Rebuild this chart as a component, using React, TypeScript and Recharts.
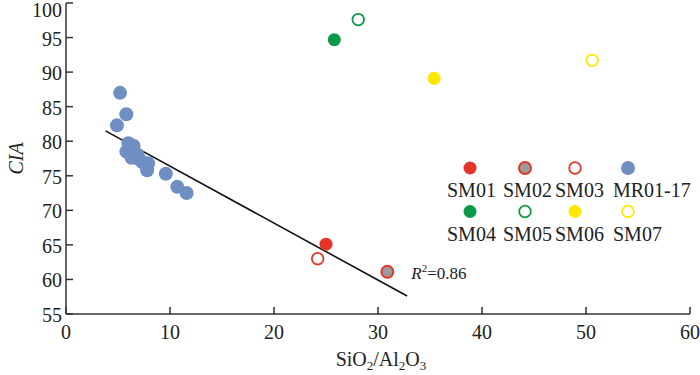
import { ScatterChart, Scatter, XAxis, YAxis, ReferenceLine, ReferenceDot, Legend } from 'recharts';

const FONT = '"Liberation Serif", "Times New Roman", serif';
const RED = '#e8332b';
const GREEN = '#0a9a47';
const YELLOW = '#ffe800';
const BLUE = '#6f8fc3';
const GRAY = '#9b9b9b';
const INK = '#222';

const xTicks = [0, 10, 20, 30, 40, 50, 60];
const yTicks = [55, 60, 65, 70, 75, 80, 85, 90, 95, 100];

// SiO2/Al2O3 (x) vs CIA (y)
const sm01 = [{ x: 25.0, y: 65.1 }];
const sm02 = [{ x: 30.9, y: 61.1 }];
const sm03 = [{ x: 24.2, y: 63.0 }];
const sm04 = [{ x: 25.8, y: 94.7 }];
const sm05 = [{ x: 28.1, y: 97.6 }];
const sm06 = [{ x: 35.4, y: 89.1 }];
const sm07 = [{ x: 50.6, y: 91.7 }];
const mr0117 = [
  { x: 5.2, y: 87.0 },
  { x: 5.8, y: 83.9 },
  { x: 4.9, y: 82.3 },
  { x: 6.0, y: 79.7 },
  { x: 6.5, y: 79.3 },
  { x: 6.2, y: 79.0 },
  { x: 5.8, y: 78.5 },
  { x: 6.6, y: 78.3 },
  { x: 6.3, y: 77.6 },
  { x: 6.9, y: 78.0 },
  { x: 7.1, y: 77.3 },
  { x: 7.4, y: 76.9 },
  { x: 7.9, y: 76.8 },
  { x: 7.8, y: 75.8 },
  { x: 9.6, y: 75.3 },
  { x: 10.7, y: 73.4 },
  { x: 11.6, y: 72.5 },
];

// regression line end points and its label
const fitLine = [
  { x: 3.8, y: 81.5 },
  { x: 32.8, y: 57.6 },
];
const r2Pos = { x: 33.3, y: 60.9 };
const r2Value = '0.86';

type Style = { name: string; data: { x: number; y: number }[]; fill: string; stroke: string; r: number; sw: number };

const series: Style[] = [
  { name: 'MR01-17', data: mr0117, fill: BLUE, stroke: 'none', r: 7, sw: 0 },
  { name: 'SM01', data: sm01, fill: RED, stroke: 'none', r: 6.5, sw: 0 },
  { name: 'SM02', data: sm02, fill: GRAY, stroke: RED, r: 6, sw: 2 },
  { name: 'SM03', data: sm03, fill: '#fff', stroke: RED, r: 5.8, sw: 1.8 },
  { name: 'SM04', data: sm04, fill: GREEN, stroke: 'none', r: 6.5, sw: 0 },
  { name: 'SM05', data: sm05, fill: '#fff', stroke: GREEN, r: 5.8, sw: 1.8 },
  { name: 'SM06', data: sm06, fill: YELLOW, stroke: 'none', r: 6.5, sw: 0 },
  { name: 'SM07', data: sm07, fill: '#fff', stroke: YELLOW, r: 5.8, sw: 1.8 },
];

const legendRows = [
  ['SM01', 'SM02', 'SM03', 'MR01-17'],
  ['SM04', 'SM05', 'SM06', 'SM07'],
];
const legendMarkX = [30, 85, 135, 188];
const legendTextX = [7, 63, 115, 173];

const TICK_LEN = 7;

function Marker({ cx, cy, s }: { cx: number; cy: number; s: Style }) {
  return <circle cx={cx} cy={cy} r={s.r} fill={s.fill} stroke={s.stroke} strokeWidth={s.sw} />;
}

// x tick: inward tick mark + serif label below axis
function XTick(props: any) {
  const { x, y, payload } = props;
  const axisY = y - 4;
  return (
    <g>
      <line x1={x} x2={x} y1={axisY} y2={axisY - TICK_LEN} stroke="#333" strokeWidth={1.5} />
      <text x={x} y={axisY + 25} textAnchor="middle" fontSize={20} fill={INK} fontFamily={FONT}>
        {payload.value}
      </text>
    </g>
  );
}

function YTick(props: any) {
  const { x, y, payload } = props;
  const axisX = x + 4;
  // keep the top label inside the picture
  const ty = Math.max(y + 1, 10);
  return (
    <g>
      <line x1={axisX} x2={axisX + TICK_LEN} y1={y} y2={y} stroke="#333" strokeWidth={1.5} />
      <text x={axisX - 4} y={ty} textAnchor="end" dominantBaseline="central" fontSize={20} fill={INK} fontFamily={FONT}>
        {payload.value}
      </text>
    </g>
  );
}

function LegendBox() {
  return (
    <svg width={260} height={100} style={{ fontFamily: FONT }}>
      {legendRows.map((row, ri) =>
        row.map((name, ci) => {
          const s = series.find((d) => d.name === name)!;
          return (
            <g key={name}>
              <Marker cx={legendMarkX[ci]} cy={18 + ri * 43.5} s={s} />
              <text x={legendTextX[ci]} y={47 + ri * 43.5} fontSize={20} fill={INK}>
                {name}
              </text>
            </g>
          );
        })
      )}
    </svg>
  );
}

const axisStroke = { stroke: '#333', strokeWidth: 1.5 };

export default function App() {
  return (
    <div style={{ position: 'absolute', left: 0, top: 0, background: '#fff' }}>
      <ScatterChart width={700} height={375} margin={{ top: 3, right: 10, left: 0, bottom: 0 }} style={{ fontFamily: FONT }}>
        <XAxis
          type="number"
          dataKey="x"
          domain={[0, 60]}
          ticks={xTicks}
          interval={0}
          height={61}
          tickSize={0}
          tickMargin={4}
          axisLine={axisStroke}
          tickLine={false}
          tick={<XTick />}
          label={{
            content: ({ viewBox }: any) => (
              <text x={viewBox.x + viewBox.width / 2 + 3} y={viewBox.y + 52} textAnchor="middle" fontSize={20} fill={INK} fontFamily={FONT}>
                SiO<tspan dy={4} fontSize={13}>2</tspan>
                <tspan dy={-4}>/Al</tspan>
                <tspan dy={4} fontSize={13}>2</tspan>
                <tspan dy={-4}>O</tspan>
                <tspan dy={4} fontSize={13}>3</tspan>
              </text>
            ),
          }}
        />
        <YAxis
          type="number"
          dataKey="y"
          domain={[55, 100]}
          ticks={yTicks}
          interval={0}
          width={66}
          tickSize={0}
          tickMargin={4}
          axisLine={axisStroke}
          tickLine={false}
          tick={<YTick />}
          label={{
            content: ({ viewBox }: any) => {
              const cx = viewBox.x + 16;
              const cy = viewBox.y + viewBox.height / 2;
              return (
                <text x={cx} y={cy} transform={`rotate(-90, ${cx}, ${cy})`} textAnchor="middle" dominantBaseline="central" fontSize={20} fontStyle="italic" fill={INK} fontFamily={FONT}>
                  CIA
                </text>
              );
            },
          }}
        />
        {series.map((s) => (
          <Scatter
            key={s.name}
            name={s.name}
            data={s.data}
            isAnimationActive={false}
            shape={(p: any) => <Marker cx={p.cx} cy={p.cy} s={s} />}
          />
        ))}
        <ReferenceLine segment={fitLine} stroke="#111" strokeWidth={1.6} />
        <ReferenceDot
          x={r2Pos.x}
          y={r2Pos.y}
          r={1}
          fill="none"
          stroke="none"
          label={{
            content: ({ viewBox }: any) => (
              <text x={viewBox.x} y={viewBox.y + viewBox.height / 2 + 6} fontSize={17} fill={INK} fontFamily={FONT}>
                <tspan fontStyle="italic">R</tspan>
                <tspan dy={-7} fontSize={11}>2</tspan>
                <tspan dy={7}>={r2Value}</tspan>
              </text>
            ),
          }}
        />
        <Legend
          layout="horizontal"
          verticalAlign="middle"
          align="center"
          wrapperStyle={{ position: 'absolute', left: 440, top: 150, width: 260, height: 100 }}
          content={() => <LegendBox />}
        />
      </ScatterChart>
    </div>
  );
}
